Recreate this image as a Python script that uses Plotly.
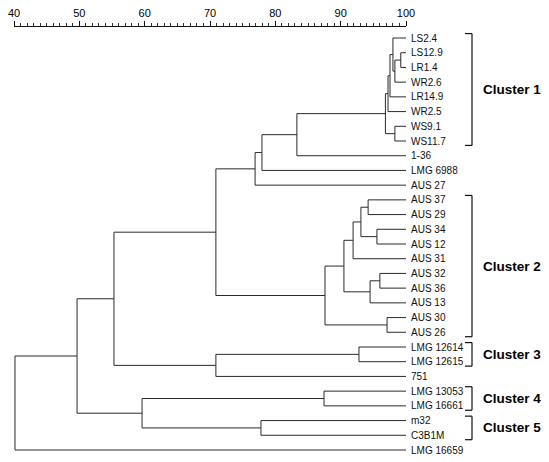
import plotly.graph_objects as go

# ---- data -----------------------------------------------------------------
leaves = ["LS2.4", "LS12.9", "LR1.4", "WR2.6", "LR14.9", "WR2.5", "WS9.1", "WS11.7",
          "1-36", "LMG 6988", "AUS 27", "AUS 37", "AUS 29", "AUS 34", "AUS 12",
          "AUS 31", "AUS 32", "AUS 36", "AUS 13", "AUS 30", "AUS 26",
          "LMG 12614", "LMG 12615", "751", "LMG 13053", "LMG 16661",
          "m32", "C3B1M", "LMG 16659"]

# merges (node, left child, right child, similarity %)
node_names = ["a", "b", "c", "d", "e", "f", "g", "h", "i", "j",
              "p", "q", "r", "s", "t", "u", "v", "w", "c2", "k",
              "c3", "c3b", "l", "c4", "c5", "c45", "m", "root"]
node_left = ["LS12.9", "a", "LS2.4", "c", "d", "WS9.1", "e", "g", "h", "i",
             "AUS 37", "AUS 34", "p", "r", "AUS 32", "t", "s", "AUS 30", "v", "j",
             "LMG 12614", "c3", "k", "LMG 13053", "m32", "c4", "l", "m"]
node_right = ["LR1.4", "WR2.6", "b", "LR14.9", "WR2.5", "WS11.7", "f", "1-36", "LMG 6988", "AUS 27",
              "AUS 29", "AUS 12", "q", "AUS 31", "AUS 36", "AUS 13", "u", "AUS 26", "w", "c2",
              "LMG 12615", "751", "c3b", "LMG 16661", "C3B1M", "c5", "c45", "LMG 16659"]
node_sim = [99.2, 98.3, 98.0, 97.55, 97.25, 98.3, 96.85, 83.3, 77.95, 76.9,
            94.2, 95.55, 93.1, 91.9, 96.0, 94.5, 90.5, 97.1, 87.6, 70.9,
            92.8, 70.9, 55.3, 87.45, 77.8, 59.6, 49.65, 40.15]

cluster_names = ["Cluster 1", "Cluster 2", "Cluster 3", "Cluster 4", "Cluster 5"]
cluster_first = ["LS2.4", "AUS 37", "LMG 12614", "LMG 13053", "m32"]
cluster_last = ["WS11.7", "AUS 26", "LMG 12615", "LMG 16661", "C3B1M"]

scale_ticks = [40, 50, 60, 70, 80, 90, 100]

# ---- layout geometry ------------------------------------------------------
W, H = 549, 462
ML, MR, MT, MB = 14, 143, 27, 5
y_top, y_bot = -0.748, 28.476

# ---- dendrogram -----------------------------------------------------------
pos = {name: (100.0, float(i)) for i, name in enumerate(leaves)}
xs, ys = [], []
for n, l, r, s in zip(node_names, node_left, node_right, node_sim):
    xl, yl = pos[l]
    xr, yr = pos[r]
    xs += [xl, s, s, xr, None]
    ys += [yl, yl, yr, yr, None]
    pos[n] = (s, (yl + yr) / 2)

fig = go.Figure()
fig.add_trace(go.Scatter(x=xs, y=ys, mode="lines",
                         line=dict(color="#2a2a2a", width=1),
                         hoverinfo="skip", showlegend=False))

annotations = []
for i, name in enumerate(leaves):
    annotations.append(dict(x=100, y=i, xref="x", yref="y", text=name,
                            xanchor="left", yanchor="middle", xshift=3,
                            showarrow=False,
                            font=dict(family="Liberation Sans, Arial", size=10, color="#111")))

def ypaper(v):
    return (y_bot - v) / (y_bot - y_top)

plot_w = W - ML - MR
bx = (472 - ML) / plot_w
bx_in = (465 - ML) / plot_w
lx = (481 - ML) / plot_w
shapes = []
for cname, f, l in zip(cluster_names, cluster_first, cluster_last):
    i0 = leaves.index(f) - 0.3
    i1 = leaves.index(l) + 0.3
    y0, y1 = ypaper(i0), ypaper(i1)
    line = dict(color="#111", width=1.2)
    shapes.append(dict(type="line", xref="paper", yref="paper", x0=bx, x1=bx, y0=y0, y1=y1, line=line))
    shapes.append(dict(type="line", xref="paper", yref="paper", x0=bx_in, x1=bx, y0=y0, y1=y0, line=line))
    shapes.append(dict(type="line", xref="paper", yref="paper", x0=bx_in, x1=bx, y0=y1, y1=y1, line=line))
    annotations.append(dict(x=lx, y=(leaves.index(f) + leaves.index(l)) / 2,
                            xref="paper", yref="y", text="<b>" + cname + "</b>",
                            xanchor="left", yanchor="middle", showarrow=False,
                            font=dict(family="Liberation Sans, Arial", size=13.5, color="#000")))

fig.update_layout(
    width=W, height=H,
    margin=dict(l=ML, r=MR, t=MT, b=MB, pad=0),
    paper_bgcolor="white", plot_bgcolor="white",
    xaxis=dict(range=[40, 100], side="top", tickvals=scale_ticks,
               ticks="outside", ticklen=5, tickwidth=1, tickcolor="#111",
               minor=dict(dtick=1, ticklen=3, tickwidth=1, tickcolor="#333", ticks="outside"),
               showline=True, linecolor="#111", linewidth=1,
               showgrid=False, zeroline=False, fixedrange=True,
               tickfont=dict(family="Liberation Sans, Arial", size=11, color="#000")),
    yaxis=dict(range=[y_bot, y_top], visible=False, showgrid=False, zeroline=False,
               fixedrange=True),
    shapes=shapes, annotations=annotations,
    showlegend=False,
)

fig.write_html("out.html", config={"displayModeBar": False, "staticPlot": True},
               post_script="document.body.style.margin='0';document.body.style.overflow='hidden';")
